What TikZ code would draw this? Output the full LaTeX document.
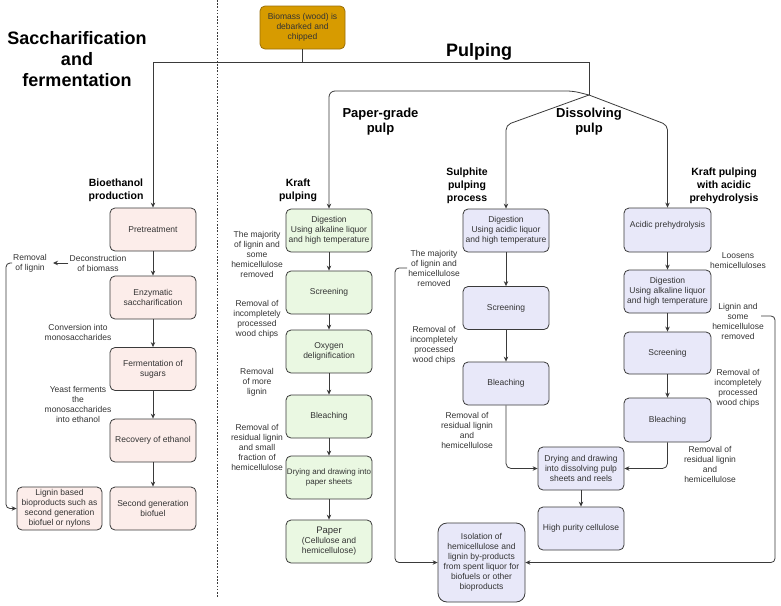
\documentclass[tikz,border=0pt]{standalone}
\usepackage{fontspec}
\setmainfont{Liberation Sans}
\usetikzlibrary{arrows.meta}
\definecolor{pinkf}{HTML}{FCEDEA}
\definecolor{greenf}{HTML}{EAF8E2}
\definecolor{lavf}{HTML}{E8E8F9}
\definecolor{goldf}{HTML}{D79B00}
\definecolor{goldd}{HTML}{9A6E08}
\definecolor{edge}{HTML}{3A3A3A}
\definecolor{txt}{HTML}{333333}
\begin{document}
\begin{tikzpicture}[x=1pt,y=-1pt,
 box/.style={draw=edge, line width=0.8pt, rounded corners=5pt, minimum width=86pt, minimum height=43pt, inner sep=1pt, align=center, text=txt, font=\fontsize{8.5}{10}\selectfont},
 pinkbox/.style={box, fill=pinkf},
 greenbox/.style={box, fill=greenf},
 lavbox/.style={box, fill=lavf},
 lbl/.style={align=center, inner sep=1pt, text=txt, font=\fontsize{8.5}{10}\selectfont},
 head/.style={align=center, inner sep=0pt, font=\bfseries\fontsize{10.5}{13}\selectfont},
 midhead/.style={align=center, inner sep=0pt, font=\bfseries\fontsize{13}{15}\selectfont},
 bighead/.style={align=center, inner sep=0pt, font=\bfseries\fontsize{18}{21}\selectfont},
 ln/.style={draw=edge, line width=0.8pt},
 arr/.style={ln, -{Stealth[length=5pt,width=4.5pt]}}]

\useasboundingbox (0,0) rectangle (781,605);

% dashed separator
\draw[edge, line width=0.7pt, dash pattern=on 1.6pt off 1.6pt] (217,0) -- (217,597);

% titles
\node[bighead] (tsac) at (77,59) {Saccharification\\and\\fermentation};
\node[bighead] (tpulp) at (479,52) {Pulping};
\node[midhead] (tpgp) at (380.5,121.5) {Paper-grade\\pulp};
\node[midhead] (tdp) at (589,121.5) {Dissolving\\pulp};
\node[head] (hbio) at (116,190.5) {Bioethanol\\production};
\node[head] (hkraft) at (298,190.5) {Kraft\\pulping};
\node[head] (hsul) at (467,186) {Sulphite\\pulping\\process};
\node[head] (hacid) at (724,186) {Kraft pulping\\with acidic\\prehydrolysis};

% top box
\node[box, fill=goldf, draw=goldd, minimum width=85pt, minimum height=43pt] (bio) at (302.5,27.5) {Biomass (wood) is\\debarked and\\chipped};

% left column
\node[pinkbox] (pre) at (153,229.5) {Pretreatment};
\node[pinkbox] (enz) at (153,297.5) {Enzymatic\\saccharification};
\node[pinkbox] (fer) at (153,369) {Fermentation of\\sugars};
\node[pinkbox] (rec) at (153,440.5) {Recovery of ethanol};
\node[pinkbox] (sec) at (153,508.5) {Second generation\\biofuel};
\node[pinkbox, minimum width=85pt] (lig) at (59.5,508.5) {Lignin based\\bioproducts such as\\second generation\\biofuel or nylons};

% kraft column
\node[greenbox] (kdig) at (329,230.5) {Digestion\\Using alkaline liquor\\and high temperature};
\node[greenbox] (kscr) at (329,292.5) {Screening};
\node[greenbox] (koxy) at (329,351.5) {Oxygen\\delignification};
\node[greenbox] (kble) at (329,416.5) {Bleaching};
\node[greenbox, font=\fontsize{8}{10}\selectfont] (kdry) at (329,477.5) {Drying and drawing into\\paper sheets};
\node[greenbox] (kpap) at (329,541.5) {{\fontsize{9.5}{11}\selectfont Paper}\\(Cellulose and\\hemicellulose)};

% sulphite column
\node[lavbox] (sdig) at (506,230.5) {Digestion\\Using acidic liquor\\and high temperature};
\node[lavbox] (sscr) at (506,308) {Screening};
\node[lavbox] (sble) at (506,383.5) {Bleaching};

% acid prehydrolysis column
\node[lavbox, minimum width=87pt, minimum height=44pt] (apre) at (667.5,230) {};
\node[lbl] (apret) at (667.5,225) {Acidic prehydrolysis};
\node[lavbox, minimum width=87pt] (adig) at (667.5,291.5) {Digestion\\Using alkaline liquor\\and high temperature};
\node[lavbox, minimum width=87pt, minimum height=42pt] (ascr) at (667.5,353) {Screening};
\node[lavbox, minimum width=87pt, minimum height=44pt] (able) at (667.5,420) {Bleaching};

% shared boxes
\node[lavbox] (dry) at (581,468.5) {Drying and drawing\\into dissolving pulp\\sheets and reels};
\node[lavbox] (hpc) at (581,528.5) {High purity cellulose};
\node[lavbox, minimum width=87pt, minimum height=79pt, rounded corners=9pt] (iso) at (481.5,562.5) {Isolation of\\hemicellulose and\\lignin by-products\\from spent liquor for\\biofuels or other\\bioproducts};

% labels
\node[lbl] (remlig) at (30,263) {Removal\\of lignin};
\node[lbl] (decon) at (98,263) {Deconstruction\\of biomass};
\node[lbl] (conv) at (78,332) {Conversion into\\monosaccharides};
\node[lbl] (yeast) at (78,404) {Yeast ferments\\the\\monosaccharides\\into ethanol};

\node[lbl] (kmaj) at (257,254) {The majority\\of lignin and\\some\\hemicellulose\\removed};
\node[lbl] (kinc) at (257,319) {Removal of\\incompletely\\processed\\wood chips};
\node[lbl] (kmore) at (257,382) {Removal\\of more\\lignin};
\node[lbl] (kres) at (257,447) {Removal of\\residual lignin\\and small\\fraction of\\hemicellulose};

\node[lbl] (smaj) at (434,268) {The majority\\of lignin and\\hemicellulose\\removed};
\node[lbl] (sinc) at (434,345) {Removal of\\incompletely\\processed\\wood chips};
\node[lbl] (sres) at (467,430) {Removal of\\residual lignin\\and\\hemicellulose};

\node[lbl] (aloos) at (738,261) {Loosens\\hemicelluloses};
\node[lbl] (alig) at (738,321) {Lignin and\\some\\hemicellulose\\removed};
\node[lbl] (ainc) at (738,388) {Removal of\\incompletely\\processed\\wood chips};
\node[lbl] (ares) at (710,464) {Removal of\\residual lignin\\and\\hemicellulose};

% junctions
\coordinate (jb) at (302.5,62);
\coordinate (jl) at (153,62);
\coordinate (jr) at (589,62);
\coordinate (jm) at (589,95);
\coordinate (ar) at (761,316);

% top connectors
\draw[ln] (bio.south) -- (jb);
\draw[ln] (jl) -- (jr) -- (jm);
\draw[arr] (jl) -- (pre.north);
\draw[arr, rounded corners=6pt] (jm) -- ++(-16,-4) -| (kdig.north);
\draw[arr, rounded corners=5pt] (jm) -- (506,125) -- (sdig.north);
\draw[arr, rounded corners=5pt] (jm) -- (667.5,125) -- (apre.north);

% left column arrows
\draw[arr] (pre) -- (enz);
\draw[arr] (enz) -- (fer);
\draw[arr] (fer) -- (rec);
\draw[arr] (rec) -- (sec);
\draw[arr, shorten >=5pt] (decon.west) -- (remlig.east);
\draw[arr, rounded corners=4pt] (remlig.west) -- ++(-6,0) |- (lig.west);

% kraft arrows
\draw[arr] (kdig) -- (kscr);
\draw[arr] (kscr) -- (koxy);
\draw[arr] (koxy) -- (kble);
\draw[arr] (kble) -- (kdry);
\draw[arr] (kdry) -- (kpap);

% sulphite arrows
\draw[arr] (sdig) -- (sscr);
\draw[arr] (sscr) -- (sble);
\draw[arr, rounded corners=5pt] (sble.south) |- (dry.west);
\draw[arr, rounded corners=4pt] (smaj.west) -- ++(-12,0) |- (iso.west);

% acid arrows
\draw[arr] (apre) -- (adig);
\draw[arr] (adig) -- (ascr);
\draw[arr] (ascr) -- (able);
\draw[arr, rounded corners=5pt] (able.south) |- (dry.east);
\draw[arr, rounded corners=4pt] (ar) -- (775,316) |- (iso.east);

% shared
\draw[arr] (dry) -- (hpc);
\end{tikzpicture}
\end{document}
